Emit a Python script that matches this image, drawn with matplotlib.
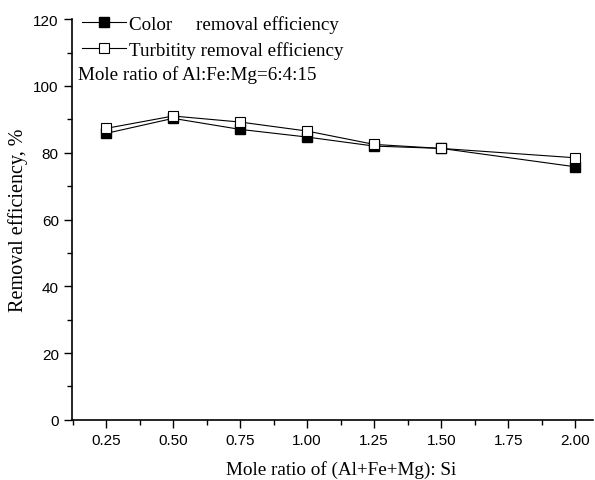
import matplotlib
matplotlib.use('Agg')
import matplotlib.pyplot as plt
from matplotlib.ticker import MultipleLocator

ratio = [0.25, 0.50, 0.75, 1.00, 1.25, 1.50, 2.00]
color_eff = [85.8, 90.3, 87.0, 84.7, 82.0, 81.3, 75.8]
turb_eff = [87.3, 91.0, 89.2, 86.5, 82.5, 81.3, 78.5]

serif = 'Liberation Serif'
sans = 'Liberation Sans'

fig = plt.figure(figsize=(5.95, 4.81), dpi=100)
ax = fig.add_axes([0.121, 0.125, 0.876, 0.833])

ax.plot(ratio, color_eff, color='black', lw=0.8, marker='s', ms=6.5,
        mfc='black', mec='black', label='Color     removal efficiency')
ax.plot(ratio, turb_eff, color='black', lw=0.8, marker='s', ms=7,
        mfc='white', mec='black', mew=0.8, label='Turbitity removal efficiency')

ax.set_xlim(0.123, 2.067)
ax.set_ylim(0, 120)
ax.xaxis.set_major_locator(MultipleLocator(0.25))
ax.xaxis.set_minor_locator(MultipleLocator(0.125))
ax.yaxis.set_major_locator(MultipleLocator(20))
ax.yaxis.set_minor_locator(MultipleLocator(10))
ax.xaxis.set_major_formatter(plt.FuncFormatter(lambda v, p: '%.2f' % v))

for s in ['top', 'right']:
    ax.spines[s].set_visible(False)
for s in ['left', 'bottom']:
    ax.spines[s].set_linewidth(1.2)
ax.tick_params(which='major', direction='out', length=6, width=1.0, labelsize=11)
ax.tick_params(which='minor', direction='out', length=3.5, width=1.0)
for lab in ax.get_xticklabels() + ax.get_yticklabels():
    lab.set_fontfamily(sans)

ax.set_xlabel('Mole ratio of (Al+Fe+Mg): Si', fontfamily=serif, fontsize=13.8)
ax.set_ylabel('Removal efficiency, %', fontfamily=serif, fontsize=14.5)
ax.xaxis.set_label_coords(0.516, -0.1)
ax.yaxis.set_label_coords(-0.104, 0.5)
ax.yaxis.label.set_va('center')

leg = ax.legend(loc='upper left', bbox_to_anchor=(0.019, 1.011), frameon=False,
                prop={'family': serif, 'size': 13.7}, handlelength=2.3,
                handletextpad=0.2, labelspacing=0.42, borderaxespad=0, borderpad=0)
ax.text(0.012, 0.862, 'Mole ratio of Al:Fe:Mg=6:4:15', transform=ax.transAxes,
        fontfamily=serif, fontsize=13.7, va='center', ha='left')

fig.savefig('out.png', dpi=100)
